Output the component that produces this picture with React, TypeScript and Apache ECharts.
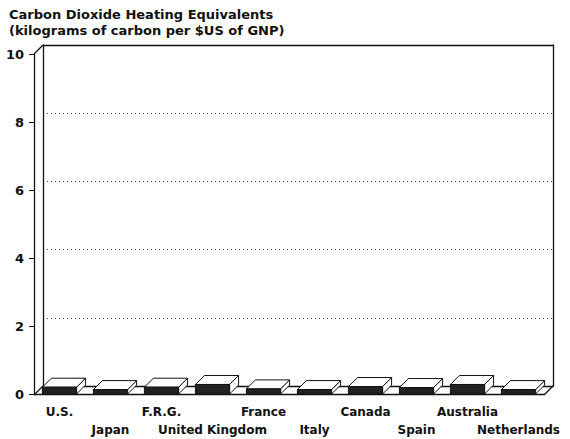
import React, { useEffect, useRef } from "react";
import * as echarts from "echarts";

const titleLines = ["Carbon Dioxide Heating Equivalents", "(kilograms of carbon per $US of GNP)"];
const categories = ["U.S.", "Japan", "F.R.G.", "United Kingdom", "France", "Italy", "Canada", "Spain", "Australia", "Netherlands"];
const values = [0.2, 0.13, 0.2, 0.28, 0.15, 0.13, 0.22, 0.19, 0.28, 0.13];
const yTicks = { min: 0, max: 10, interval: 2 };

// layout constants
const FL = 34, FT = 54, FW = 510, FH = 341; // front plane
const DX = 9, DY = 9; // depth offset
const FONT = "DejaVu Sans";

export default function App() {
  const ref = useRef<HTMLDivElement>(null);
  useEffect(() => {
    document.body.style.margin = "0";
    const chart = echarts.init(ref.current!, null, { renderer: "svg" });
    const ink = "#111";
    const frame = { color: ink, width: 1.3 };
    const option: any = {
      animation: false,
      backgroundColor: "#fff",
      title: {
        text: titleLines.join("\n"),
        left: 9,
        top: 6,
        padding: 0,
        textStyle: { fontFamily: FONT, fontSize: 13, fontWeight: "bold", color: ink, lineHeight: 16 },
      },
      grid: [
        { left: FL, top: FT, width: FW, height: FH },
        { left: FL + DX, top: FT - DY, width: FW, height: FH },
      ],
      xAxis: [
        {
          type: "category",
          gridIndex: 0,
          data: categories,
          axisLine: { onZero: false, lineStyle: frame },
          axisTick: { alignWithLabel: true, length: 5, lineStyle: { color: ink, width: 1 } },
          axisLabel: {
            interval: 0,
            margin: 9,
            fontFamily: FONT,
            fontSize: 12,
            fontWeight: "bold",
            color: ink,
            lineHeight: 18,
            formatter: (v: string, i: number) => (i % 2 === 1 ? "\n" + v : v),
          },
        },
        {
          type: "category",
          gridIndex: 1,
          data: categories,
          position: "bottom",
          axisLine: { onZero: false, lineStyle: frame },
          axisTick: { show: false },
          axisLabel: { show: false },
        },
        {
          type: "category",
          gridIndex: 1,
          data: categories,
          position: "top",
          axisLine: { onZero: false, lineStyle: frame },
          axisTick: { show: false },
          axisLabel: { show: false },
        },
      ],
      yAxis: [
        {
          type: "value",
          gridIndex: 0,
          ...yTicks,
          axisLine: { show: true, onZero: false, lineStyle: frame },
          axisTick: { show: true, length: 5, lineStyle: { color: ink, width: 1 } },
          axisLabel: { margin: 10, fontFamily: FONT, fontSize: 13, fontWeight: "bold", color: ink },
          splitLine: { show: false },
        },
        {
          type: "value",
          gridIndex: 1,
          ...yTicks,
          position: "left",
          axisLine: { show: true, onZero: false, lineStyle: frame },
          axisTick: { show: false },
          axisLabel: { show: false },
          splitLine: { show: true, showMinLine: false, showMaxLine: false, lineStyle: { color: "#444", width: 1, type: [1, 3] } },
        },
        {
          type: "value",
          gridIndex: 1,
          ...yTicks,
          position: "right",
          axisLine: { show: true, onZero: false, lineStyle: frame },
          axisTick: { show: false },
          axisLabel: { show: false },
          splitLine: { show: false },
        },
      ],
      graphic: [
        { type: "line", shape: { x1: FL, y1: FT, x2: FL + DX, y2: FT - DY }, style: { stroke: ink, lineWidth: 1.3 } },
        { type: "line", shape: { x1: FL, y1: FT + FH, x2: FL + DX, y2: FT + FH - DY }, style: { stroke: ink, lineWidth: 1.3 } },
        { type: "line", shape: { x1: FL + FW, y1: FT + FH, x2: FL + FW + DX, y2: FT + FH - DY }, style: { stroke: ink, lineWidth: 1.3 } },
      ],
      series: [
        {
          type: "custom",
          xAxisIndex: 0,
          yAxisIndex: 0,
          z: 10,
          data: values.map((v, i) => [i, v]),
          renderItem: (params: any, api: any) => {
            const top = api.coord([api.value(0), api.value(1)]);
            const base = api.coord([api.value(0), 0]);
            const w = api.size([1, 0])[0] * 0.67;
            const x0 = top[0] - w / 2;
            const x1 = top[0] + w / 2;
            const yt = top[1];
            const yb = base[1];
            const d = DX;
            const stroke = { stroke: ink, lineWidth: 1, lineJoin: "round" };
            return {
              type: "group",
              children: [
                {
                  type: "polygon",
                  shape: { points: [[x1, yt], [x1 + d, yt - d], [x1 + d, yb - d], [x1, yb]] },
                  style: { fill: "#fff", ...stroke },
                },
                {
                  type: "polygon",
                  shape: { points: [[x0, yt], [x1, yt], [x1 + d, yt - d], [x0 + d, yt - d]] },
                  style: { fill: "#fff", ...stroke },
                },
                {
                  type: "rect",
                  shape: { x: x0, y: yt, width: x1 - x0, height: yb - yt },
                  style: { fill: "#222", ...stroke },
                },
              ],
            };
          },
        },
      ],
    };
    chart.setOption(option);
    return () => chart.dispose();
  }, []);
  return <div ref={ref} style={{ width: 570, height: 439 }} />;
}
